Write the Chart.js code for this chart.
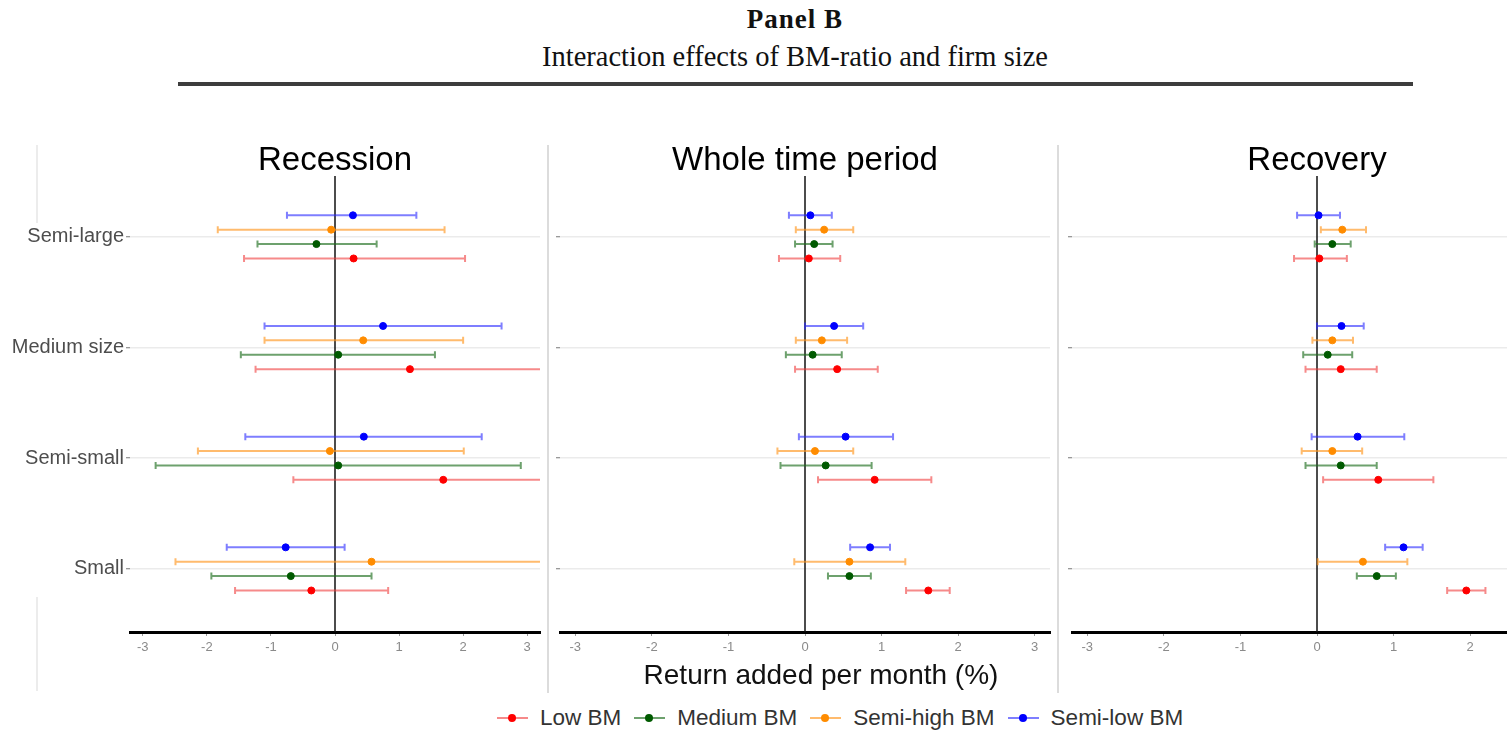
<!DOCTYPE html>
<html>
<head>
<meta charset="utf-8">
<script src="https://cdn.jsdelivr.net/npm/chart.js@4/dist/chart.umd.min.js"></script>
<style>
  body { margin: 0; width: 1507px; height: 731px; overflow: hidden; background: #fff; position: relative; }
  .box { position: absolute; }
  .serif { font-family: "Liberation Serif", "Times New Roman", serif; color: #111; text-align: center; position: absolute; white-space: nowrap; }
  #rule { position: absolute; left: 178px; top: 82px; width: 1235px; height: 4px; background: #3d3d3d; }
  .sep { position: absolute; width: 2px; background: #dcdcdc; }
  #xtitle { position: absolute; left: 521px; width: 600px; top: 659px; text-align: center; font: 28px "Liberation Sans", Arial, sans-serif; color: #111; }
  #legend { position: absolute; top: 705px; left: 497px; font: 22.5px "Liberation Sans", Arial, sans-serif; color: #333; display: flex; align-items: center; white-space: nowrap; }
  .item { display: flex; align-items: center; margin-right: 13px; }
  .mk { position: relative; width: 31px; height: 20px; margin-right: 12px; }
  .mk .ln { position: absolute; left: 0; right: 0; top: 9px; height: 2px; }
  .mk .dt { position: absolute; left: 11px; top: 6px; width: 8px; height: 8px; border-radius: 50%; }
</style>
</head>
<body>
<div class="serif" style="left:0;width:1590px;top:4px;font-size:27px;font-weight:bold;letter-spacing:1px;">Panel B</div>
<div class="serif" style="left:0;width:1590px;top:41px;font-size:28.5px;">Interaction effects of BM-ratio and firm size</div>
<div id="rule"></div>
<div class="sep" style="left:547px;top:145px;height:548px;"></div>
<div class="sep" style="left:1057px;top:145px;height:548px;"></div>
<div class="sep" style="left:36px;top:145px;height:78px;background:#ececec;"></div>
<div class="sep" style="left:36px;top:597px;height:94px;background:#ececec;"></div>

<div class="box" style="left:0;top:136px;"><canvas id="c1" width="545" height="526"></canvas></div>
<div class="box" style="left:548px;top:136px;"><canvas id="c2" width="507" height="526"></canvas></div>
<div class="box" style="left:1060px;top:136px;"><canvas id="c3" width="507" height="526"></canvas></div>

<div id="xtitle">Return added per month (%)</div>
<div id="legend"></div>

<script>
// firm size categories, bottom to top
const sizes = ['Small', 'Semi-small', 'Medium size', 'Semi-large'];
const groups = ['Low BM', 'Medium BM', 'Semi-high BM', 'Semi-low BM'];
const periods = ['Recession', 'Whole time period', 'Recovery'];
const xTicks = [-3, -2, -1, 0, 1, 2, 3];

// estimates and 95% bounds, one row per BM group, columns follow sizes
const recessionEst = [
  [-0.37, 1.69, 1.17, 0.29],
  [-0.69, 0.05, 0.05, -0.29],
  [0.57, -0.08, 0.44, -0.06],
  [-0.77, 0.45, 0.75, 0.28]
];
const recessionLo = [
  [-1.56, -0.65, -1.24, -1.42],
  [-1.93, -2.80, -1.47, -1.21],
  [-2.49, -2.14, -1.10, -1.83],
  [-1.69, -1.40, -1.10, -0.75]
];
const recessionHi = [
  [0.83, 4.03, 3.58, 2.03],
  [0.57, 2.90, 1.56, 0.65],
  [3.63, 2.01, 2.00, 1.71],
  [0.15, 2.29, 2.60, 1.27]
];

const wholeEst = [
  [1.61, 0.91, 0.42, 0.05],
  [0.58, 0.27, 0.10, 0.12],
  [0.58, 0.13, 0.22, 0.25],
  [0.85, 0.53, 0.38, 0.07]
];
const wholeLo = [
  [1.32, 0.17, -0.13, -0.34],
  [0.30, -0.32, -0.25, -0.13],
  [-0.14, -0.36, -0.12, -0.12],
  [0.59, -0.08, 0.00, -0.21]
];
const wholeHi = [
  [1.89, 1.65, 0.95, 0.46],
  [0.86, 0.87, 0.48, 0.36],
  [1.31, 0.63, 0.55, 0.63],
  [1.11, 1.15, 0.76, 0.35]
];

const recoveryEst = [
  [1.95, 0.80, 0.31, 0.03],
  [0.78, 0.31, 0.14, 0.20],
  [0.60, 0.20, 0.20, 0.33],
  [1.13, 0.53, 0.32, 0.02]
];
const recoveryLo = [
  [1.70, 0.08, -0.15, -0.30],
  [0.52, -0.15, -0.18, -0.03],
  [0.01, -0.20, -0.06, 0.05],
  [0.89, -0.07, 0.00, -0.26]
];
const recoveryHi = [
  [2.20, 1.52, 0.78, 0.39],
  [1.03, 0.78, 0.46, 0.44],
  [1.18, 0.59, 0.47, 0.64],
  [1.38, 1.14, 0.61, 0.30]
];

const pointColors = ['#ff0000', '#005a00', '#ff8c00', '#0000ff'];
const barColors = ['rgba(240,60,60,0.6)', 'rgba(30,110,30,0.65)', 'rgba(255,150,30,0.65)', 'rgba(40,40,255,0.6)'];
const dodge = [-0.195, -0.065, 0.065, 0.195];

// horizontal error bars, drawn from the dataset's bounds through the scales
const errorBars = {
  id: 'errorBars',
  beforeDatasetsDraw(chart) {
    const { ctx, chartArea, scales } = chart;
    ctx.save();
    ctx.beginPath();
    ctx.rect(chartArea.left, chartArea.top, chartArea.right - chartArea.left, chartArea.bottom - chartArea.top);
    ctx.clip();
    // zero reference line
    const x0 = scales.x.getPixelForValue(0);
    ctx.strokeStyle = '#111';
    ctx.lineWidth = 1.5;
    ctx.beginPath();
    ctx.moveTo(x0, chartArea.top);
    ctx.lineTo(x0, chartArea.bottom);
    ctx.stroke();

    chart.data.datasets.forEach(ds => {
      ctx.strokeStyle = ds.barColor;
      ctx.lineWidth = 2;
      ds.data.forEach((p, i) => {
        const y = scales.y.getPixelForValue(p.y);
        const a = scales.x.getPixelForValue(ds.lo[i]);
        const b = scales.x.getPixelForValue(ds.hi[i]);
        ctx.beginPath();
        ctx.moveTo(a, y); ctx.lineTo(b, y);
        ctx.moveTo(a, y - 3.5); ctx.lineTo(a, y + 3.5);
        ctx.moveTo(b, y - 3.5); ctx.lineTo(b, y + 3.5);
        ctx.stroke();
      });
    });
    ctx.restore();
  }
};

// panel title centred over the plot area, as ggplot does
const panelTitle = {
  id: 'panelTitle',
  afterDraw(chart, args, opts) {
    const { ctx, chartArea } = chart;
    ctx.save();
    ctx.fillStyle = '#000';
    ctx.font = '33px "Liberation Sans", Arial, sans-serif';
    ctx.textAlign = 'center';
    ctx.textBaseline = 'alphabetic';
    ctx.fillText(opts.text, (chartArea.left + chartArea.right) / 2, 34);
    ctx.restore();
  }
};

function makePanel(id, title, est, lo, hi, showLabels, yWidth) {
  const datasets = groups.map((g, k) => ({
    label: g,
    data: sizes.map((s, i) => ({ x: est[k][i], y: i + 1 + dodge[k] })),
    lo: lo[k],
    hi: hi[k],
    barColor: barColors[k],
    pointBackgroundColor: pointColors[k],
    pointBorderColor: pointColors[k],
    pointRadius: 3.5,
    showLine: false
  }));

  new Chart(document.getElementById(id), {
    type: 'scatter',
    data: { datasets },
    plugins: [errorBars, panelTitle],
    options: {
      responsive: false,
      animation: false,
      layout: { padding: { left: 0, right: 4, top: 40, bottom: 0 } },
      plugins: {
        legend: { display: false },
        tooltip: { enabled: false },
        panelTitle: { text: title }
      },
      scales: {
        x: {
          type: 'linear',
          min: -3.2,
          max: 3.2,
          afterBuildTicks: s => { s.ticks = xTicks.map(v => ({ value: v })); },
          afterFit: s => { s.height = 30; },
          grid: { drawOnChartArea: false, drawTicks: true, tickLength: 4, color: '#9a9a9a' },
          border: { display: true, color: '#000', width: 3 },
          ticks: { color: '#8a8a8a', font: { family: '"Liberation Sans", Arial, sans-serif', size: 13 }, padding: 4, maxRotation: 0 }
        },
        y: {
          type: 'linear',
          min: 0.43,
          max: 4.55,
          afterBuildTicks: s => { s.ticks = sizes.map((c, i) => ({ value: i + 1 })); },
          afterFit: s => { s.width = yWidth; },
          grid: { color: '#ebebeb', lineWidth: 1.5, tickLength: 4, tickColor: '#777', tickWidth: 1 },
          border: { display: false },
          ticks: {
            color: '#4d4d4d',
            padding: 2,
            font: { family: '"Liberation Sans", Arial, sans-serif', size: 20 },
            callback: v => showLabels ? sizes[v - 1] : ''
          }
        }
      }
    }
  });
}

makePanel('c1', periods[0], recessionEst, recessionLo, recessionHi, true, 130);
makePanel('c2', periods[1], wholeEst, wholeLo, wholeHi, false, 12);
makePanel('c3', periods[2], recoveryEst, recoveryLo, recoveryHi, false, 12);

// legend
const legend = document.getElementById('legend');
groups.forEach((g, k) => {
  const item = document.createElement('div');
  item.className = 'item';
  item.innerHTML = '<div class="mk"><div class="ln" style="background:' + barColors[k] + '"></div>' +
    '<div class="dt" style="background:' + pointColors[k] + '"></div></div><span>' + g + '</span>';
  legend.appendChild(item);
});
</script>
</body>
</html>
